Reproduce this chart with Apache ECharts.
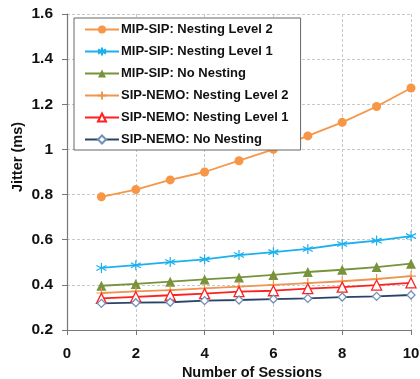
<!DOCTYPE html>
<html>
<head>
<meta charset="utf-8">
<script src="https://cdn.jsdelivr.net/npm/echarts@6/dist/echarts.min.js"></script>
<style>
html, body { margin: 0; padding: 0; background: #fff; }
#main { width: 420px; height: 379px; }
</style>
</head>
<body>
<div id="main"></div>
<script>
var sessions = [1, 2, 3, 4, 5, 6, 7, 8, 9, 10];
var mipL2 = [0.79, 0.822, 0.865, 0.90, 0.95, 1.0, 1.06, 1.12, 1.19, 1.272];
var mipL1 = [0.475, 0.487, 0.501, 0.513, 0.532, 0.545, 0.559, 0.581, 0.596, 0.616];
var mipNo = [0.396, 0.404, 0.414, 0.424, 0.433, 0.444, 0.457, 0.467, 0.479, 0.494];
var nemoL2 = [0.364, 0.371, 0.377, 0.384, 0.392, 0.400, 0.408, 0.416, 0.426, 0.439];
var nemoL1 = [0.340, 0.347, 0.354, 0.361, 0.370, 0.374, 0.383, 0.390, 0.399, 0.409];
var nemoNo = [0.318, 0.321, 0.323, 0.330, 0.333, 0.337, 0.340, 0.346, 0.349, 0.355];
var yTicks = [0.2, 0.4, 0.6, 0.8, 1, 1.2, 1.4, 1.6];

function pairs(vals) {
    return sessions.map(function (s, i) { return [s, vals[i]]; });
}

var asterisk = 'path://M5,0L5,10M0.7,2.5L9.3,7.5M0.7,7.5L9.3,2.5';
var plus = 'path://M5,0L5,10M0,5L10,5';

function mkSeries(name, vals, color, symbol, size, hollow, markerColor) {
    var mc = markerColor || color;
    return {
        name: name,
        type: 'line',
        data: pairs(vals),
        symbol: symbol,
        symbolSize: size,
        showAllSymbol: true,
        lineStyle: { color: color, width: 1.8 },
        itemStyle: {
            color: hollow ? '#ffffff' : mc,
            borderColor: mc,
            borderWidth: hollow ? 1.3 : (symbol.indexOf('path') === 0 ? 1.2 : 0)
        },
        emphasis: { disabled: true }
    };
}

var seriesInfo = [
    mkSeries('MIP-SIP: Nesting Level 2', mipL2, '#F79646', 'circle', 9, false),
    mkSeries('MIP-SIP: Nesting Level 1', mipL1, '#1CB0EE', asterisk, 10, false),
    mkSeries('MIP-SIP: No Nesting', mipNo, '#77933C', 'triangle', 10, false),
    mkSeries('SIP-NEMO: Nesting Level 2', nemoL2, '#EE9550', plus, 10, false),
    mkSeries('SIP-NEMO: Nesting Level 1', nemoL1, '#FF2020', 'triangle', 10, true),
    mkSeries('SIP-NEMO: No Nesting', nemoNo, '#2A4468', 'diamond', 8, true, '#7090B8')
];

var option = {
    animation: false,
    backgroundColor: '#ffffff',
    textStyle: { fontFamily: 'Liberation Sans, Arial, sans-serif' },
    grid: { left: 67, right: 9, top: 14, bottom: 49, containLabel: false, outerBoundsMode: 'none' },
    legend: {
        orient: 'vertical',
        left: 74,
        top: 18,
        width: 224,
        padding: [5, 12, 4, 10],
        backgroundColor: '#ffffff',
        borderColor: '#666666',
        borderWidth: 1,
        itemWidth: 34,
        itemHeight: 10,
        itemGap: 9,
        textStyle: { color: '#111', fontSize: 13, fontWeight: 'bold', padding: [0, 0, 0, -3] },
        data: seriesInfo.map(function (s) { return s.name; })
    },
    xAxis: {
        type: 'value',
        min: 0, max: 10, interval: 2,
        name: 'Number of Sessions',
        nameLocation: 'middle',
        nameGap: 33,
        nameTextStyle: { fontSize: 14.5, fontWeight: 'bold', color: '#111', padding: [0, 0, 0, 26] },
        axisLine: { show: true, lineStyle: { color: '#777', width: 1.2 } },
        axisTick: { show: true, length: 5, lineStyle: { color: '#777' } },
        axisLabel: { fontSize: 15, fontWeight: 'bold', color: '#111', margin: 16 },
        splitLine: { show: true, lineStyle: { color: '#c8c8c8', type: [3, 2] } }
    },
    yAxis: {
        type: 'value',
        min: 0.2, max: 1.6, interval: 0.2,
        name: 'Jitter (ms)',
        nameLocation: 'middle',
        nameRotate: 90,
        nameGap: 42,
        nameMoveOverlap: false,
        nameTextStyle: { fontSize: 14.5, fontWeight: 'bold', color: '#111', padding: [0, 0, 0, 30] },
        axisLine: { show: true, lineStyle: { color: '#777', width: 1.2 } },
        axisTick: { show: true, length: 5, lineStyle: { color: '#777' } },
        axisLabel: {
            fontSize: 15.5, fontWeight: 'bold', color: '#111', margin: 14,
            formatter: function (v) {
                var t = yTicks.reduce(function (a, b) { return Math.abs(b - v) < Math.abs(a - v) ? b : a; });
                return String(t);
            }
        },
        splitLine: { show: true, lineStyle: { color: '#c8c8c8', type: [3, 2] } }
    },
    series: seriesInfo
};

var myChart = echarts.init(document.getElementById('main'), null, { renderer: 'canvas' });
myChart.setOption(option);
</script>
</body>
</html>
